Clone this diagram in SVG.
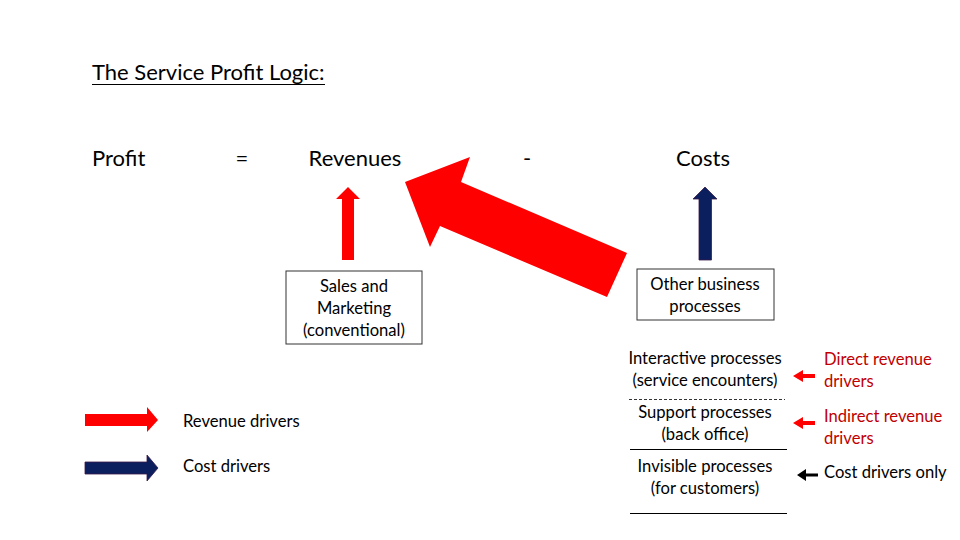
<svg xmlns="http://www.w3.org/2000/svg" width="960" height="540" viewBox="0 0 960 540">
<style>
text{font-family:Lato,"Liberation Sans",sans-serif;fill:#000}
.big{font-size:22px}
.t{font-size:16.6px}
.c{text-anchor:middle}
.red{fill:#c00000}
.box{fill:#fff;stroke:#333;stroke-width:1}
.rf{fill:#ff0000}
.nf{fill:#0b1f5e;stroke:#3a1a4a;stroke-width:0.8}
.ln{stroke:#000;stroke-width:1}
</style>
<rect width="960" height="540" fill="#fff"/>
<g id="title">
<text x="92" y="80" class="big">The Service Profit Logic:</text>
<line x1="92" y1="84.5" x2="325" y2="84.5" class="ln"/>
</g>
<g id="equation">
<text x="92" y="166" class="big">Profit</text>
<text x="242" y="166" class="big c">=</text>
<text x="355" y="166" class="big c">Revenues</text>
<text x="527" y="166" class="big c">-</text>
<text x="703" y="166" class="big c">Costs</text>
</g>
<g id="connectors">
<polygon class="rf" points="348,187 360,199 354,199 354,260 342,260 342,199 336,199"/>
<polygon class="nf" points="705,187 717,199 711.5,199 711.5,260 699,260 699,199 693,199"/>
<polygon class="rf" points="405,182 470,157 461,182 627,253 607,297 440,226 430,247"/>
<polygon class="rf" points="793,376 803,370 803,374 815,374 815,378 803,378 803,382"/>
<polygon class="rf" points="793,423 803,417 803,421 815,421 815,425 803,425 803,429"/>
<polygon fill="#000" points="797,475 806,469 806,473.5 818,473.5 818,476.5 806,476.5 806,481"/>
</g>
<g id="sales">
<rect x="286" y="271" width="136" height="73" class="box"/>
<text x="354" y="292" class="t c">Sales and</text>
<text x="354" y="314" class="t c">Marketing</text>
<text x="354" y="336" class="t c">(conventional)</text>
</g>
<g id="other">
<rect x="637" y="269" width="137" height="51" class="box"/>
<text x="705" y="290" class="t c">Other business</text>
<text x="705" y="312" class="t c">processes</text>
</g>
<g id="interactive">
<text x="705" y="364" class="t c">Interactive processes</text>
<text x="705" y="386" class="t c">(service encounters)</text>
<line x1="629" y1="399.5" x2="785" y2="399.5" stroke="#000" stroke-width="0.8" stroke-dasharray="3,2"/>
</g>
<g id="support">
<text x="705" y="418" class="t c">Support processes</text>
<text x="705" y="440" class="t c">(back office)</text>
<line x1="630" y1="449.5" x2="787" y2="449.5" class="ln"/>
</g>
<g id="invisible">
<text x="705" y="472" class="t c">Invisible processes</text>
<text x="705" y="494" class="t c">(for customers)</text>
<line x1="630" y1="513.5" x2="787" y2="513.5" class="ln"/>
</g>
<g id="labels">
<text x="824" y="365" class="t red">Direct revenue</text>
<text x="824" y="387" class="t red">drivers</text>
<text x="824" y="422" class="t red">Indirect revenue</text>
<text x="824" y="444" class="t red">drivers</text>
<text x="824" y="478" class="t">Cost drivers only</text>
</g>
<g id="legend">
<polygon class="rf" points="158,420 147,407 147,414 85,414 85,426 147,426 147,432"/>
<polygon class="nf" points="158,468 147,455 147,462 85,462 85,474 147,474 147,481"/>
<text x="183" y="427" class="t">Revenue drivers</text>
<text x="183" y="472" class="t">Cost drivers</text>
</g>
</svg>
